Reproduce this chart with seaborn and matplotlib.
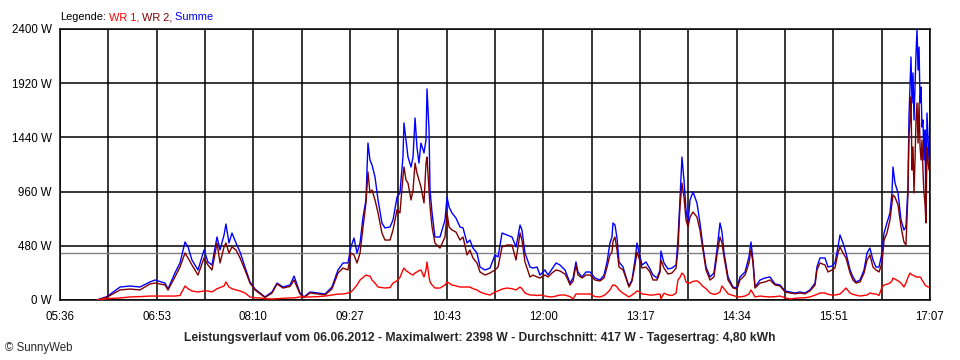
import numpy as np
import pandas as pd
import matplotlib
matplotlib.use("Agg")
import matplotlib.pyplot as plt
import seaborn as sns

# ---------------- data ----------------
# time in minutes after midnight
time_min = [365.4, 373.3, 383.7, 391.6, 399.5, 407.5, 411.5, 419.4, 421.8, 427.3,
            431.3, 435.3, 437.7, 440.8, 445.6, 450.4, 453.5, 456.7, 460.7, 463.1,
            466.3, 467.8, 470.2, 472.6, 475.8, 479.0, 482.9, 486.9, 490.9, 494.9,
            498.8, 504.4, 508.4, 513.1, 518.7, 521.9, 526.6, 529.8, 534.6, 540.9,
            546.5, 552.0, 556.8, 560.8, 564.7, 567.1, 569.5, 571.9, 574.3, 576.7,
            579.0, 580.6, 582.2, 583.8, 586.2, 588.6, 591.7, 594.1, 598.1, 600.5,
            603.7, 606.0, 608.4, 609.2, 610.8, 612.4, 614.8, 616.4, 618.0, 619.5,
            621.1, 622.7, 625.1, 626.7, 627.5, 629.1, 629.9, 631.5, 633.8, 637.8,
            641.8, 643.4, 645.0, 647.3, 650.5, 653.7, 656.1, 659.3, 661.6, 664.0,
            667.2, 669.6, 673.6, 677.5, 681.5, 683.9, 687.1, 691.0, 695.0, 698.2,
            701.4, 702.9, 705.3, 709.3, 711.7, 714.9, 717.2, 721.2, 723.6, 726.8,
            730.0, 733.1, 737.1, 739.5, 741.1, 743.5, 745.8, 747.4, 750.6, 753.8,
            757.0, 760.9, 764.9, 768.1, 770.5, 772.8, 774.4, 775.2, 776.8, 778.4,
            780.0, 783.2, 785.5, 787.9, 790.3, 792.7, 794.3, 795.9, 798.3, 801.4,
            804.6, 807.0, 810.2, 812.6, 813.3, 815.7, 818.9, 822.1, 825.3, 826.8,
            828.4, 830.0, 831.6, 833.2, 834.8, 836.4, 838.8, 841.9, 844.3, 846.7,
            849.1, 852.3, 855.4, 857.8, 860.2, 861.8, 863.4, 866.6, 870.5, 873.7,
            876.1, 880.1, 883.2, 884.8, 886.4, 888.0, 892.0, 895.9, 899.9, 903.9,
            907.9, 911.8, 915.8, 919.8, 923.7, 927.7, 931.7, 935.7, 937.2, 939.6,
            943.6, 946.0, 949.2, 951.5, 953.9, 955.5, 957.9, 960.3, 963.5, 965.8,
            968.2, 971.4, 974.6, 977.0, 979.3, 981.7, 984.1, 986.5, 988.9, 990.5,
            992.8, 995.2, 996.8, 997.6, 999.2, 1001.6, 1004.0, 1006.3, 1007.9, 1009.5,
            1010.3, 1011.1, 1011.9, 1012.7, 1013.5, 1014.3, 1015.1, 1015.9, 1016.7, 1017.5,
            1018.3, 1019.1, 1019.9, 1020.6, 1021.4, 1022.2, 1023.0, 1023.8, 1024.6, 1025.4,
            1026.2]

summe = [0, 30, 115, 124, 115, 160, 177, 150, 97, 240,
         328, 514, 470, 354, 266, 443, 337, 310, 558, 443,
         576, 673, 505, 593, 505, 425, 292, 160, 97, 62,
         27, 71, 150, 115, 133, 212, 62, 27, 71, 62,
         53, 115, 266, 328, 328, 470, 549, 416, 505, 735,
         886, 1390, 1240, 1196, 1089, 886, 682, 638, 647, 709,
         912, 948, 1266, 1568, 1417, 1266, 1178, 1266, 1612, 1355,
         1213, 1390, 1302, 1417, 1869, 1506, 974, 771, 558, 558,
         709, 912, 824, 771, 726, 647, 638, 505, 531, 460,
         416, 292, 266, 283, 399, 381, 593, 576, 558, 470,
         664, 620, 416, 292, 283, 292, 221, 266, 221, 275,
         328, 310, 266, 195, 150, 195, 337, 248, 204, 248,
         248, 195, 177, 221, 337, 505, 558, 682, 664, 549,
         337, 292, 204, 124, 177, 354, 505, 416, 310, 337,
         275, 221, 195, 266, 434, 328, 275, 283, 310, 531,
         886, 1266, 1063, 797, 682, 886, 957, 859, 682, 470,
         292, 204, 239, 443, 682, 602, 416, 204, 115, 106,
         204, 248, 381, 514, 354, 115, 177, 195, 204, 142,
         133, 80, 71, 62, 71, 62, 89, 150, 292, 372,
         372, 292, 301, 328, 470, 576, 505, 416, 266, 204,
         160, 177, 266, 416, 460, 354, 292, 292, 416, 593,
         682, 771, 948, 1178, 1036, 948, 709, 620, 647, 1001,
         1621, 1886, 2152, 1745, 2011, 1594, 1886, 2187, 2398, 2037,
         2240, 1745, 1886, 1532, 1594, 1240, 1506, 771, 1656, 1444,
         1240]

wr2 = [0, 25, 89, 97, 89, 142, 150, 133, 89, 204,
       292, 416, 372, 310, 221, 372, 310, 266, 505, 328,
       470, 505, 416, 470, 443, 372, 266, 150, 89, 55,
       22, 62, 142, 106, 120, 177, 53, 22, 62, 53,
       45, 97, 239, 283, 266, 416, 399, 328, 416, 647,
       859, 1134, 948, 974, 886, 771, 593, 531, 531, 620,
       800, 771, 1089, 1178, 1063, 1036, 886, 974, 1213, 1125,
       1063, 1001, 859, 1213, 1266, 974, 824, 647, 505, 460,
       558, 771, 647, 620, 602, 531, 558, 399, 443, 372,
       328, 248, 221, 239, 266, 292, 470, 487, 487, 354,
       593, 531, 337, 204, 221, 204, 195, 221, 204, 239,
       266, 257, 230, 177, 133, 168, 310, 221, 195, 221,
       221, 177, 168, 195, 292, 399, 425, 520, 558, 443,
       292, 266, 195, 115, 168, 310, 425, 372, 283, 292,
       248, 177, 177, 248, 354, 283, 230, 239, 283, 443,
       824, 1036, 912, 709, 647, 735, 779, 735, 620, 443,
       266, 177, 204, 399, 558, 505, 381, 177, 106, 97,
       177, 221, 328, 443, 328, 106, 150, 160, 177, 133,
       124, 71, 62, 55, 62, 55, 80, 133, 266, 328,
       310, 248, 266, 283, 416, 470, 416, 372, 239, 177,
       150, 160, 239, 354, 399, 292, 266, 248, 328, 531,
       593, 709, 859, 930, 912, 841, 647, 514, 487, 948,
       1444, 1594, 1798, 1151, 1355, 948, 1240, 1600, 1745, 1390,
       1745, 1355, 1240, 1417, 1151, 948, 859, 682, 1355, 1240,
       1151]

wr1 = [0, 12, 18, 27, 30, 35, 35, 35, 35, 35,
       40, 124, 100, 80, 71, 80, 80, 71, 100, 110,
       124, 160, 115, 100, 89, 80, 62, 27, 18, 18,
       12, 9, 12, 15, 18, 18, 27, 27, 27, 30,
       35, 44, 53, 53, 62, 70, 100, 133, 177, 200,
       221, 215, 212, 177, 150, 115, 110, 106, 110, 150,
       170, 200, 266, 283, 260, 248, 230, 221, 240, 248,
       260, 266, 204, 266, 337, 204, 160, 133, 106, 106,
       133, 160, 150, 133, 125, 115, 115, 115, 115, 100,
       89, 71, 55, 44, 71, 80, 97, 106, 100, 89,
       115, 100, 62, 44, 44, 40, 44, 35, 30, 27,
       35, 44, 44, 35, 30, 10, 53, 53, 53, 53,
       53, 30, 27, 40, 62, 89, 120, 133, 130, 115,
       89, 60, 44, 27, 44, 62, 80, 75, 53, 50,
       44, 44, 50, 53, 10, 60, 45, 40, 60, 177,
       200, 239, 221, 160, 150, 150, 165, 170, 150, 120,
       100, 62, 50, 55, 71, 124, 100, 55, 40, 30,
       27, 35, 53, 89, 60, 27, 35, 30, 27, 30,
       35, 20, 9, 15, 18, 20, 27, 44, 50, 62,
       62, 50, 44, 44, 50, 53, 80, 106, 62, 50,
       44, 35, 40, 44, 62, 55, 53, 40, 115, 133,
       140, 150, 170, 195, 185, 170, 150, 115, 150, 200,
       220, 239, 230, 221, 221, 215, 210, 205, 204, 204,
       204, 204, 195, 177, 165, 150, 133, 125, 120, 115,
       115]

series_names = ["Summe", "WR 2", "WR 1"]
series_colors = ["#0000FF", "#800000", "#FF0000"]
x_tick_labels = ["05:36", "06:53", "08:10", "09:27", "10:43",
                 "12:00", "13:17", "14:34", "15:51", "17:07"]
y_ticks = [0, 480, 960, 1440, 1920, 2400]
average_w = 417
title_text = ("Leistungsverlauf vom 06.06.2012 - Maximalwert: 2398 W - "
              "Durchschnitt: 417 W - Tagesertrag: 4,80 kWh")

# ---------------- figure ----------------
sns.set_style("white")
plt.rcParams["font.family"] = ["Liberation Sans", "DejaVu Sans"]

df = pd.DataFrame({"t": time_min, "Summe": summe, "WR 2": wr2, "WR 1": wr1})
long = df.melt(id_vars="t", var_name="serie", value_name="W")

fig = plt.figure(figsize=(9.6, 3.6), dpi=100)
ax = fig.add_axes([60 / 960, 60 / 360, 870 / 960, 271 / 360])

x0, x1 = 336, 1027
ax.set_xlim(x0, x1)
ax.set_ylim(0, 2400)

# grid / ticks
xt = np.linspace(x0, x1, 19)
labels = []
for i in range(19):
    labels.append(x_tick_labels[i // 2] if i % 2 == 0 else "")
ax.set_xticks(xt)
ax.set_xticklabels(labels)
ax.set_yticks(y_ticks)
ax.set_yticklabels([f"{v} W" for v in y_ticks])
ax.grid(True, color="black", linewidth=1.1, zorder=1)
ax.set_axisbelow(True)
ax.tick_params(axis="both", length=3.8, width=1.1, color="black",
               direction="out", labelsize=8.3, labelcolor="black", pad=2)
ax.tick_params(axis="x", pad=4)
for sp in ax.spines.values():
    sp.set_color("black")
    sp.set_linewidth(1.1)

ax.axhline(average_w, color="#808080", linewidth=1.0, zorder=2)

sns.lineplot(data=long, x="t", y="W", hue="serie", hue_order=series_names,
             palette=dict(zip(series_names, series_colors)), estimator=None,
             sort=False, linewidth=1.0, legend=False, ax=ax, zorder=3)
ax.set_xlabel("")
ax.set_ylabel("")

# legend text at top
renderer = fig.canvas.get_renderer()
xpos = 60 / 960
for txt, col in [("Legende:", "black"), (" WR 1,", series_colors[2]),
                 (" WR 2,", series_colors[1]), (" Summe", series_colors[0])]:
    t = fig.text(xpos, 1 - 17 / 360, txt, color=col, fontsize=7.9, va="center", ha="left")
    bb = t.get_window_extent(renderer)
    xpos = bb.x1 / fig.bbox.width

fig.text(0.5, 1 - 338 / 360, title_text, ha="center", va="center",
         fontsize=8.7, fontweight="bold")
fig.text(5 / 960, 1 - 348 / 360, "\u00a9 SunnyWeb", ha="left", va="center", fontsize=8.3)

fig.savefig("out.png", dpi=100)
